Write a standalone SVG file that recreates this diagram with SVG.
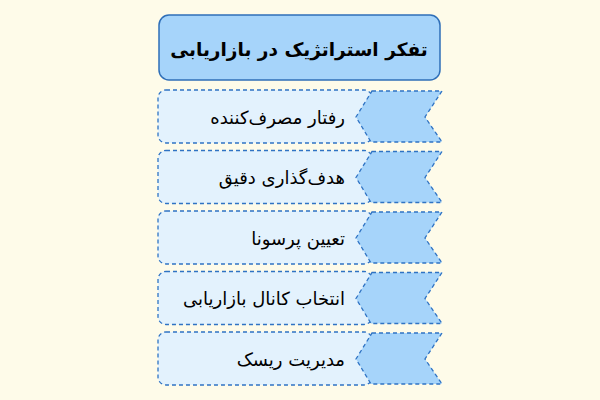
<svg xmlns="http://www.w3.org/2000/svg" width="600" height="400" viewBox="0 0 600 400">
<style>
.bg{fill:#fefbe9}
.title{fill:#a6d4fa;stroke:#2f6fb8;stroke-width:1.5}
.box{fill:#e3f2fd;stroke:#2f73c4;stroke-width:1.3;stroke-dasharray:4 3}
.chev{fill:#a6d4fa;stroke:#2f73c4;stroke-width:1.3;stroke-dasharray:4 3}
.tt{font-family:"DejaVu Sans",sans-serif;font-weight:bold;font-size:18.5px;fill:#000;text-anchor:middle}
.lbl{font-family:"DejaVu Sans",sans-serif;font-size:18px;fill:#000;text-anchor:end;dominant-baseline:central}
</style>
<rect class="bg" x="0" y="0" width="600" height="400"/>
<g id="title">
<rect class="title" x="159" y="15" width="281" height="65" rx="10"/>
<text class="tt" x="299" y="56">تفکر استراتژیک در بازاریابی</text>
</g>
<g id="connectors"></g>
<g id="row1">
<rect class="box" x="158" y="90" width="214" height="53" rx="8"/>
<polygon class="chev" points="372,91 442,91 425,117 442,142 371,142 356,117"/>
<text class="lbl" x="345" y="117">رفتار مصرف‌کننده</text>
</g>
<g id="row2">
<rect class="box" x="158" y="150.5" width="214" height="53" rx="8"/>
<polygon class="chev" points="372,151.5 442,151.5 425,177.5 442,202.5 371,202.5 356,177.5"/>
<text class="lbl" x="345" y="177.5">هدف‌گذاری دقیق</text>
</g>
<g id="row3">
<rect class="box" x="158" y="211" width="214" height="53" rx="8"/>
<polygon class="chev" points="372,212 442,212 425,238 442,263 371,263 356,238"/>
<text class="lbl" x="345" y="238">تعیین پرسونا</text>
</g>
<g id="row4">
<rect class="box" x="158" y="271.5" width="214" height="53" rx="8"/>
<polygon class="chev" points="372,272.5 442,272.5 425,298.5 442,323.5 371,323.5 356,298.5"/>
<text class="lbl" x="345" y="298.5">انتخاب کانال بازاریابی</text>
</g>
<g id="row5">
<rect class="box" x="158" y="332" width="214" height="53" rx="8"/>
<polygon class="chev" points="372,333 442,333 425,359 442,384 371,384 356,359"/>
<text class="lbl" x="345" y="359">مدیریت ریسک</text>
</g>
</svg>
